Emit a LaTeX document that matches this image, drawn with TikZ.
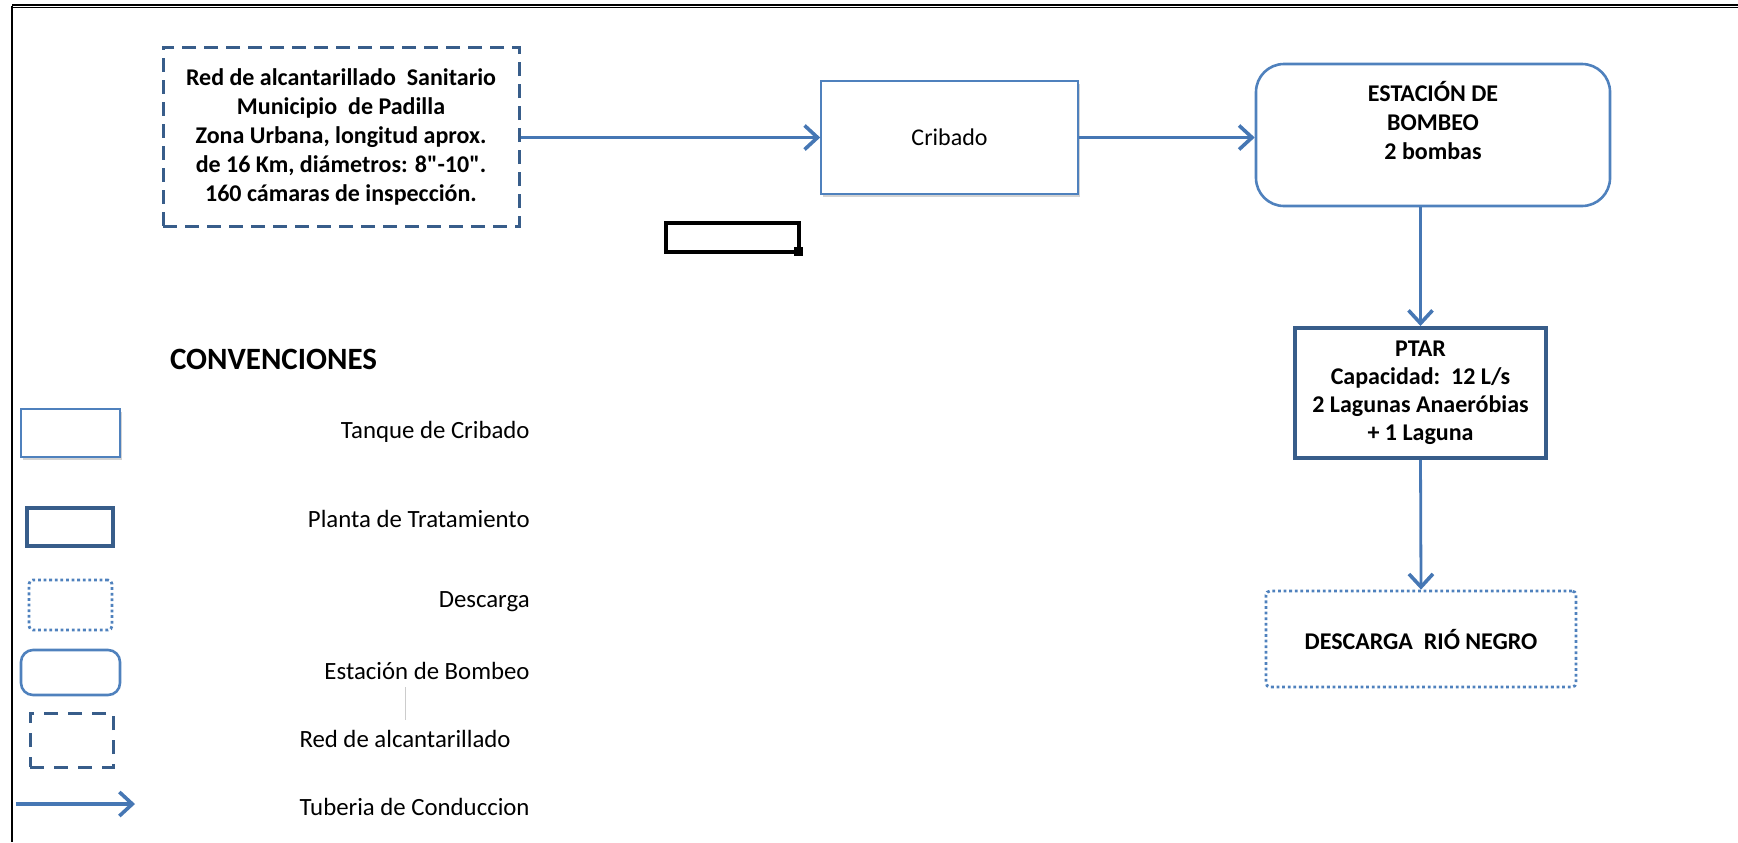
\documentclass[tikz,border=0pt]{standalone}
\usepackage{fontspec}
\setmainfont{Carlito}[Ligatures=TeXOff]
\usetikzlibrary{arrows.meta}
\usetikzlibrary{shadows}

\definecolor{boxblue}{HTML}{4F81BD}
\definecolor{darkblue}{HTML}{385D8A}
\definecolor{pipeblue}{HTML}{4677B4}

\tikzset{
  boxtext/.style={font=\fontsize{12pt}{14.5pt}\selectfont, align=center, inner sep=0pt},
  redbox/.style={draw=darkblue, line width=1.5pt, dash pattern=on 7pt off 4pt},
  cribbox/.style={draw=boxblue, line width=0.8pt, fill=white,
    drop shadow={opacity=0.35, shadow xshift=1pt, shadow yshift=-1.5pt}},
  bombbox/.style={draw=boxblue, line width=1.3pt, rounded corners=14pt},
  plantbox/.style={draw=darkblue, line width=2pt},
  dischbox/.style={draw=boxblue, line width=1.4pt, dash pattern=on 1.4pt off 1.4pt, rounded corners=2pt},
  pipe/.style={draw=pipeblue, line width=1.4pt, -{Straight Barb[length=6.5pt, width=12pt, line width=1.8pt]}},
  legtext/.style={font=\fontsize{12.4pt}{14pt}\selectfont, inner sep=0pt, anchor=east}
}

\begin{document}
\begin{tikzpicture}[x=0.5pt, y=-0.5pt]
    \useasboundingbox (0,0) rectangle (1738,842);

    %%% Frame %%%
    \draw[black, line width=0.6pt, double, double distance=0.5pt] (12,6) -- (1738,6);
    \draw[black, line width=1pt] (12,6) -- (12,842);

    %%% Flow %%%
    \node[redbox, boxtext, font=\bfseries\fontsize{12pt}{14.5pt}\selectfont,
          minimum width=178pt, minimum height=89.5pt] (red) at (341,136.5)
        {Red de alcantarillado\ \ Sanitario\\Municipio\ \ de Padilla\\Zona Urbana,\ longitud aprox.\\de 16 Km, diámetros: 8"-10".\\160 cámaras\ de inspección.};
    \node[cribbox, boxtext, minimum width=128.5pt, minimum height=56.5pt] (crib) at (949.5,137.5) {Cribado};
    \node[bombbox, boxtext, font=\bfseries\fontsize{12pt}{14.5pt}\selectfont,
          minimum width=177pt, minimum height=71pt] (bomb) at (1433,135)
        {ESTACIÓN\ DE\\BOMBEO\\2 bombas\\\mbox{}};
    \node[plantbox, boxtext, font=\bfseries\fontsize{12pt}{14pt}\selectfont,
          minimum width=125.5pt, minimum height=65pt] (ptar) at (1420.5,393)
        {PTAR\\Capacidad:\ \ 12 L/s\\2 Lagunas\ Anaeróbias\\+ 1 Laguna};
    \node[dischbox, boxtext, font=\bfseries\fontsize{12pt}{14.5pt}\selectfont,
          minimum width=155pt, minimum height=48pt] (desc) at (1421,639)
        {DESCARGA\ \ RIÓ NEGRO};

    \draw[pipe] (red.east |- crib.west) -- (crib.west);
    \draw[pipe] (crib.east) -- (crib.east -| bomb.west);
    \draw[pipe] (ptar.north |- bomb.south) -- (ptar.north);
    \draw[pipe] (ptar.south) -- (desc.north);

    % loose cell outline
    \draw[black, line width=2pt] (666,223) rectangle (799,252);
    \fill[black] (794,247) rectangle (803,256);

    %%% Conventions %%%
    \node[font=\bfseries\fontsize{15.5pt}{18pt}\selectfont, inner sep=0pt] (conv) at (273.5,359) {CONVENCIONES};

    % Row 1
    \node[cribbox, minimum width=49.5pt, minimum height=24pt, inner sep=0pt] (lg1) at (70.5,433) {};
    \node[legtext] (lt1) at (530,432) {Tanque de Cribado};
    % Row 2
    \node[plantbox, minimum width=43pt, minimum height=19pt, inner sep=0pt] (lg2) at (70,527) {};
    \node[legtext] (lt2) at (530,519) {Planta de Tratamiento};
    % Row 3
    \node[dischbox, minimum width=41.5pt, minimum height=25pt, inner sep=0pt] (lg3) at (70.5,605) {};
    \node[legtext] (lt3) at (530,602) {Descarga};
    % Row 4
    \node[bombbox, rounded corners=6pt, minimum width=49.5pt, minimum height=22.5pt, inner sep=0pt] (lg4) at (70.5,672.5) {};
    \node[legtext] (lt4) at (530,671) {Estación de Bombeo};
    \draw[black!20, line width=0.4pt] (405,687) -- (405,720);
    % Row 5
    \node[redbox, dash pattern=on 7pt off 5pt, minimum width=41.5pt, minimum height=27pt, inner sep=0pt] (lg5) at (71.5,740) {};
    \node[legtext] (lt5) at (511,739) {Red de alcantarillado};
    % Row 6
    \coordinate (pipeA) at (16,804);
    \coordinate (pipeB) at (135,804);
    \draw[pipe, line width=1.7pt] (pipeA) -- (pipeB);
    \node[legtext] (lt6) at (530,807) {Tuberia de Conduccion};
\end{tikzpicture}
\end{document}
